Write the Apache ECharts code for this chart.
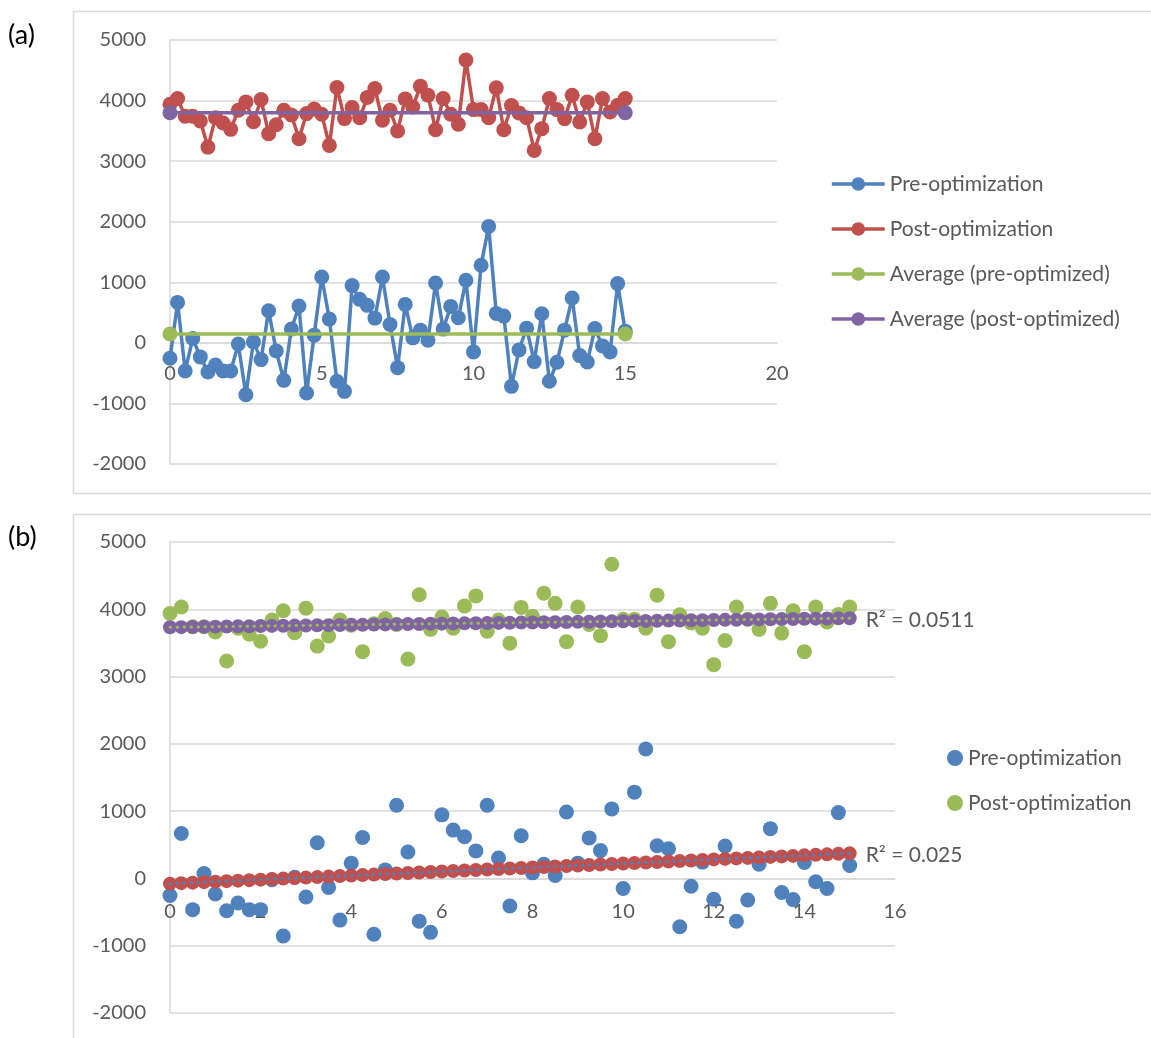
<!DOCTYPE html>
<html>
<head>
<meta charset="utf-8">
<script src="https://cdn.jsdelivr.net/npm/echarts@6/dist/echarts.min.js"></script>
<style>
  html, body { margin: 0; padding: 0; background: #fff; }
  #chart { width: 1151px; height: 1038px; }
</style>
</head>
<body>
<div id="chart"></div>
<script>
// Sample positions (time axis) shared by both panels
const xValues = [
  0, 0.25, 0.5, 0.75, 1, 1.25, 1.5, 1.75, 2, 2.25, 2.5, 2.75, 3, 3.25, 3.5, 3.75,
  4, 4.25, 4.5, 4.75, 5, 5.25, 5.5, 5.75, 6, 6.25, 6.5, 6.75, 7, 7.25, 7.5, 7.75,
  8, 8.25, 8.5, 8.75, 9, 9.25, 9.5, 9.75, 10, 10.25, 10.5, 10.75, 11, 11.25, 11.5, 11.75,
  12, 12.25, 12.5, 12.75, 13, 13.25, 13.5, 13.75, 14, 14.25, 14.5, 14.75, 15
];

// Measured values before optimization
const preValues = [
  -254, 668, -464, 72, -232, -481, -365, -464, -464, -20,
  -856, 17, -276, 530, -133, -619, 227, 608, -829, 127,
  1088, 392, -635, -801, 945, 718, 619, 409, 1088, 304,
  -409, 635, 83, 210, 44, 988, 227, 602, 414, 1033,
  -149, 1282, 1923, 486, 442, -718, -116, 243, -309, 481,
  -635, -320, 210, 740, -210, -315, 238, -50, -149, 978, 193
];

// Measured values after optimization
const postValues = [
  3939, 4033, 3740, 3740, 3663, 3232, 3718, 3630, 3525, 3840,
  3978, 3652, 4017, 3453, 3602, 3840, 3762, 3370, 3785, 3862,
  3773, 3260, 4215, 3702, 3884, 3718, 4050, 4199, 3674, 3840,
  3497, 4028, 3895, 4238, 4088, 3519, 4033, 3773, 3608, 4669,
  3851, 3851, 3718, 4210, 3519, 3917, 3796, 3718, 3177, 3536,
  4033, 3851, 3702, 4088, 3646, 3978, 3370, 4033, 3812, 3923, 4033
];

// Axis ticks
const yTicks = { min: -2000, max: 5000, interval: 1000 };
const xTicksA = { min: 0, max: 20, interval: 5 };
const xTicksB = { min: 0, max: 16, interval: 2 };

// Trendline labels
const r2Pre = 'R\u00B2 = 0.025';
const r2Post = 'R\u00B2 = 0.0511';

const C = { blue: '#4F81BD', red: '#C0504D', green: '#9BBB59', purple: '#8064A2' };
const FONT = 'Lato';
const TXT = '#595959';
const GRIDC = '#d9d9d9';

const GRID_A = { left: 170, top: 40, width: 607, height: 424 };
const GRID_B = { left: 170, top: 542, width: 725, height: 471 };

const pairs = v => xValues.map((x, i) => [x, v[i]]);
const mean = v => v.reduce((a, b) => a + b, 0) / v.length;

// Least-squares linear fit evaluated at every sample position
function linearFit(v) {
  const mx = mean(xValues), my = mean(v);
  let sxy = 0, sxx = 0;
  xValues.forEach((x, i) => { sxy += (x - mx) * (v[i] - my); sxx += (x - mx) * (x - mx); });
  const b = sxy / sxx, a = my - b * mx;
  return xValues.map(x => a + b * x);
}

const preAvg = mean(preValues);
const postAvg = mean(postValues);
const firstX = xValues[0], lastX = xValues[xValues.length - 1];

const preFit = linearFit(preValues);
const postFit = linearFit(postValues);

function fitPoints(fit, label) {
  return xValues.map((x, i) => {
    const item = { value: [x, fit[i]] };
    if (i === xValues.length - 1) {
      item.label = {
        show: true, position: 'right', distance: 9, formatter: label,
        color: TXT, fontFamily: FONT, fontSize: 21, offset: [0, 2]
      };
    }
    return item;
  });
}

function yAxis(gridIndex) {
  return {
    type: 'value', gridIndex, min: yTicks.min, max: yTicks.max, interval: yTicks.interval,
    axisLine: { show: true, onZero: false, lineStyle: { color: GRIDC, width: 1.5 } },
    axisTick: { show: false },
    axisLabel: { color: TXT, fontFamily: FONT, fontSize: 20, margin: 24, formatter: v => String(v) },
    splitLine: { lineStyle: { color: GRIDC, width: 1.5 } }
  };
}
// The horizontal axis crosses the value axis at zero: lift it from the grid bottom
function xAxis(gridIndex, t, grid, margin) {
  const lift = grid.height * (0 - yTicks.min) / (yTicks.max - yTicks.min);
  return {
    type: 'value', gridIndex, min: t.min, max: t.max, interval: t.interval,
    position: 'bottom', offset: -lift,
    axisLine: { show: true, onZero: false, lineStyle: { color: GRIDC, width: 1.5 } },
    axisTick: { show: false },
    axisLabel: { color: TXT, fontFamily: FONT, fontSize: 20, margin, formatter: v => String(v) },
    splitLine: { show: false }
  };
}

const chart = echarts.init(document.getElementById('chart'), null, { renderer: 'canvas' });

chart.setOption({
  animation: false,
  backgroundColor: '#fff',
  graphic: [
    { type: 'rect', shape: { x: 73.5, y: 11.5, width: 1100, height: 482 },
      style: { fill: 'none', stroke: GRIDC, lineWidth: 1.5 }, silent: true },
    { type: 'rect', shape: { x: 73.5, y: 514.5, width: 1100, height: 600 },
      style: { fill: 'none', stroke: GRIDC, lineWidth: 1.5 }, silent: true },
    { type: 'text', x: 8, y: 35, style: { text: '(a)', fill: '#000', font: '27px ' + FONT, verticalAlign: 'middle' } },
    { type: 'text', x: 8, y: 537, style: { text: '(b)', fill: '#000', font: '27px ' + FONT, verticalAlign: 'middle' } }
  ],
  grid: [GRID_A, GRID_B],
  xAxis: [xAxis(0, xTicksA, GRID_A, 21), xAxis(1, xTicksB, GRID_B, 23)],
  yAxis: [yAxis(0), yAxis(1)],
  legend: [
    {
      orient: 'vertical', left: 825, top: 168, itemWidth: 53, itemHeight: 17, itemGap: 23,
      itemStyle: { borderWidth: 0 },
      lineStyle: { width: 3.5 },
      textStyle: { color: TXT, fontFamily: FONT, fontSize: 21, lineHeight: 22 },
      data: ['Pre-optimization', 'Post-optimization', 'Average (pre-optimized)', 'Average (post-optimized)']
    },
    {
      orient: 'vertical', left: 942, top: 742, itemWidth: 16, itemHeight: 16, itemGap: 23,
      textStyle: { color: TXT, fontFamily: FONT, fontSize: 21, lineHeight: 22 },
      data: [
        { name: 'Pre-optimization ', icon: 'circle', itemStyle: { color: C.blue } },
        { name: 'Post-optimization ', icon: 'circle', itemStyle: { color: C.green } }
      ],
      formatter: n => n.trim()
    }
  ],
  series: [
    // Panel (a): line series with markers
    { name: 'Pre-optimization', type: 'line', xAxisIndex: 0, yAxisIndex: 0, data: pairs(preValues),
      symbol: 'circle', symbolSize: 15, color: C.blue, lineStyle: { width: 3.5 }, z: 2 },
    { name: 'Post-optimization', type: 'line', xAxisIndex: 0, yAxisIndex: 0, data: pairs(postValues),
      symbol: 'circle', symbolSize: 15, color: C.red, lineStyle: { width: 3.5 }, z: 2 },
    { name: 'Average (pre-optimized)', type: 'line', xAxisIndex: 0, yAxisIndex: 0,
      data: [[firstX, preAvg], [lastX, preAvg]],
      symbol: 'circle', symbolSize: 15, color: C.green, lineStyle: { width: 3.5 }, z: 3 },
    { name: 'Average (post-optimized)', type: 'line', xAxisIndex: 0, yAxisIndex: 0,
      data: [[firstX, postAvg], [lastX, postAvg]],
      symbol: 'circle', symbolSize: 15, color: C.purple, lineStyle: { width: 3.5 }, z: 3 },

    // Panel (b): scatter with linear trendlines
    { name: 'Pre-optimization ', type: 'scatter', xAxisIndex: 1, yAxisIndex: 1, data: pairs(preValues),
      symbolSize: 15, itemStyle: { color: C.blue, opacity: 1 }, z: 2 },
    { name: 'Post-optimization ', type: 'scatter', xAxisIndex: 1, yAxisIndex: 1, data: pairs(postValues),
      symbolSize: 15, itemStyle: { color: C.green, opacity: 1 }, z: 2 },
    { name: 'fitPreMarks', type: 'scatter', xAxisIndex: 1, yAxisIndex: 1, data: fitPoints(preFit, r2Pre),
      symbolSize: 14, itemStyle: { color: C.red, opacity: 1 }, z: 3 },
    { name: 'fitPostMarks', type: 'scatter', xAxisIndex: 1, yAxisIndex: 1, data: fitPoints(postFit, r2Post),
      symbolSize: 14, itemStyle: { color: C.purple, opacity: 1 }, z: 3 },
    { name: 'fitPreLine', type: 'line', xAxisIndex: 1, yAxisIndex: 1,
      data: [[firstX, preFit[0]], [lastX, preFit[preFit.length - 1]]],
      showSymbol: false, symbol: 'none', z: 4,
      lineStyle: { color: C.blue, width: 3, type: [0.5, 6.5], cap: 'round' } },
    { name: 'fitPostLine', type: 'line', xAxisIndex: 1, yAxisIndex: 1,
      data: [[firstX, postFit[0]], [lastX, postFit[postFit.length - 1]]],
      showSymbol: false, symbol: 'none', z: 4,
      lineStyle: { color: C.green, width: 3, type: [0.5, 6.5], cap: 'round' } }
  ]
});
</script>
</body>
</html>
